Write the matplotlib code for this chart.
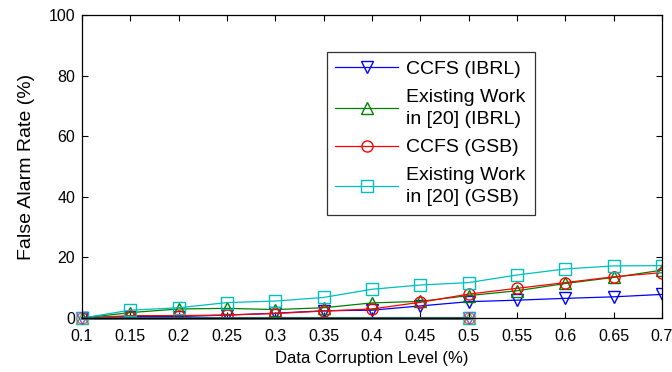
import matplotlib
matplotlib.use('Agg')
import matplotlib.pyplot as plt

plt.rcParams['font.family'] = ['Liberation Sans', 'DejaVu Sans']

# Data corruption levels and false alarm rates (%)
levels = [0.1, 0.15, 0.2, 0.25, 0.3, 0.35, 0.4, 0.45, 0.5, 0.55, 0.6, 0.65, 0.7]
ccfs_ibrl = [0, 0.5, 0.5, 1.0, 1.6, 2.4, 2.6, 4.0, 5.4, 5.9, 6.5, 7.0, 7.8]
existing_ibrl = [0, 1.8, 3.0, 3.2, 2.8, 3.4, 5.0, 5.5, 7.4, 9.0, 11.4, 13.4, 15.8]
ccfs_gsb = [0, 0.8, 0.8, 1.0, 1.5, 2.3, 3.0, 5.2, 7.9, 9.8, 11.7, 13.6, 15.0]
existing_gsb = [0, 2.6, 3.4, 5.1, 5.6, 6.8, 9.5, 10.9, 11.7, 14.2, 16.2, 17.2, 17.3]

# stray zero-valued segments drawn in the original figure
zero_x = [0.1, 0.5]
zero_y = [0, 0]

labels = ['CCFS (IBRL)', 'Existing Work\nin [20] (IBRL)', 'CCFS (GSB)', 'Existing Work\nin [20] (GSB)']
colors = ['#0000ff', '#008000', '#ff0000', '#00bfbf']
markers = ['v', '^', 'o', 's']
series = [ccfs_ibrl, existing_ibrl, ccfs_gsb, existing_gsb]

fig = plt.figure(figsize=(6.72, 3.72), dpi=100)
ax = fig.add_axes([0.122, 0.145, 0.863, 0.815])

for vals, lab, c, m in zip(series, labels, colors, markers):
    ax.plot(levels, vals, color=c, marker=m, markersize=8, markerfacecolor='none',
            markeredgecolor=c, linewidth=0.9, label=lab)

for c, m in zip(colors, markers):
    ax.plot(zero_x, zero_y, color=c, marker=m, markersize=8, markerfacecolor='none',
            markeredgecolor=c, linewidth=1.8, alpha=0.6, clip_on=False)
ax.plot(zero_x, zero_y, color='#2f5f5f', linewidth=1.6, alpha=0.6, clip_on=False)

ax.set_xlim(0.1, 0.7)
ax.set_ylim(0, 100)
ax.set_xticks(levels)
ax.set_xticklabels(['0.1', '0.15', '0.2', '0.25', '0.3', '0.35', '0.4', '0.45', '0.5',
                    '0.55', '0.6', '0.65', '0.7'])
ax.set_yticks([0, 20, 40, 60, 80, 100])
ax.tick_params(direction='in', top=True, right=True, labelsize=11.5, length=4, width=0.8)
ax.tick_params(axis='x', pad=8)
ax.tick_params(axis='y', pad=5)
for s in ax.spines.values():
    s.set_linewidth(0.9)

ax.set_xlabel('Data Corruption Level (%)', fontsize=12, labelpad=5)
ax.set_ylabel('False Alarm Rate (%)', fontsize=14, labelpad=10)

leg = ax.legend(loc='upper left', bbox_to_anchor=(0.422, 0.878), fontsize=14, frameon=True,
                fancybox=False, edgecolor='black', handlelength=3.2, borderpad=0.45,
                labelspacing=0.55, handletextpad=0.45, borderaxespad=0)
for t in leg.get_texts():
    t.set_linespacing(1.4)
leg.get_frame().set_linewidth(0.9)

fig.savefig('out.png', dpi=100)
